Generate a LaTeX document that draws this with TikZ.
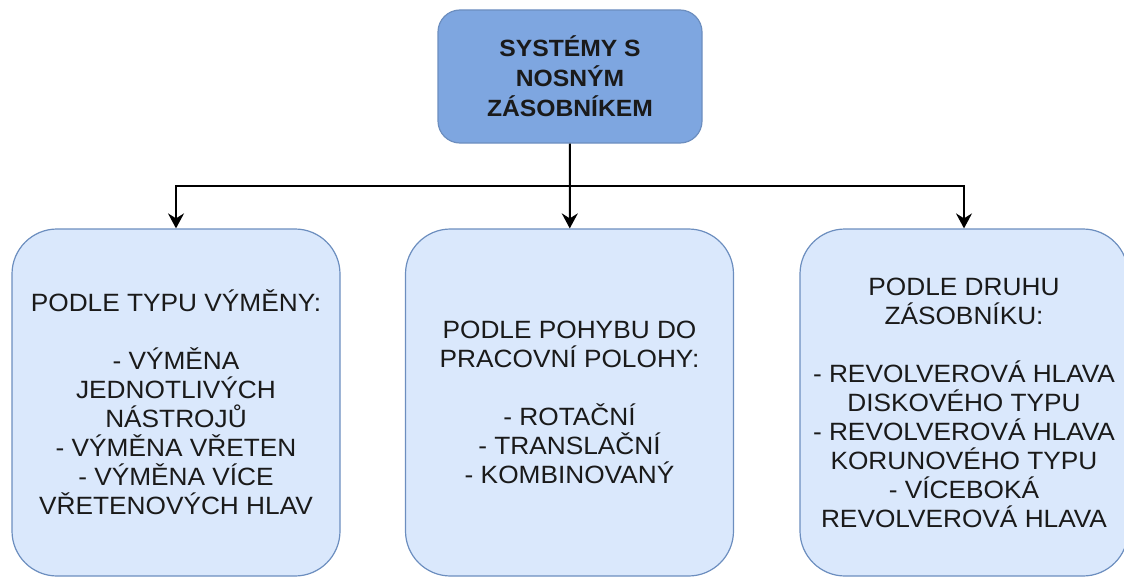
\documentclass[tikz,border=0pt]{standalone}
\usepackage{fontspec}
\setmainfont{Liberation Sans}
\newfontfamily\boxfont[FakeStretch=1.05]{Liberation Sans}
\usetikzlibrary{arrows.meta}
\definecolor{topfill}{HTML}{7EA6E0}
\definecolor{boxfill}{HTML}{DAE8FC}
\definecolor{boxline}{HTML}{6C8EBF}
\definecolor{boxtext}{HTML}{1A1A1A}

\begin{document}
\begin{tikzpicture}[x=1pt,y=-1pt,
		topbox/.style={draw=boxline, fill=topfill, line width=1.2pt, rounded corners=22pt, minimum width=264pt, minimum height=133pt, inner sep=0pt, align=center, text=boxtext, font=\boxfont\bfseries\fontsize{23.5}{30}\selectfont},
		sortbox/.style={draw=boxline, fill=boxfill, line width=1.2pt, rounded corners=45pt, minimum width=328pt, minimum height=347pt, inner sep=0pt, align=center, text=boxtext, font=\boxfont\fontsize{25}{29}\selectfont},
		link/.style={line width=2pt, -{Stealth[length=15pt, width=16pt, inset=5pt]}}]
		\useasboundingbox (0,0) rectangle (1124,578);
		%oben
		\node[topbox] (system) at (570,76.5) {SYSTÉMY S\\NOSNÝM\\ZÁSOBNÍKEM};
		%unten
		\node[sortbox] (vymena) at (176,402.5) {PODLE TYPU VÝMĚNY:\\[29pt]- VÝMĚNA\\JEDNOTLIVÝCH\\NÁSTROJŮ\\- VÝMĚNA VŘETEN\\- VÝMĚNA VÍCE\\VŘETENOVÝCH HLAV};
		\node[sortbox] (pohyb) at (569.5,402.5) {PODLE POHYBU DO\\PRACOVNÍ POLOHY:\\[29pt]- ROTAČNÍ\\- TRANSLAČNÍ\\- KOMBINOVANÝ};
		\node[sortbox] (druh) at (964,402.5) {PODLE DRUHU\\ZÁSOBNÍKU:\\[29pt]- REVOLVEROVÁ HLAVA\\DISKOVÉHO TYPU\\- REVOLVEROVÁ HLAVA\\KORUNOVÉHO TYPU\\- VÍCEBOKÁ\\REVOLVEROVÁ HLAVA};
		%pfeile
		\coordinate (split) at (570,186);
		\draw[line width=2pt] (system) -- (split);
		\draw[link] (split) -| (vymena);
		\draw[link] (system) -- (pohyb);
		\draw[link] (split) -| (druh);
	\end{tikzpicture}
\end{document}
